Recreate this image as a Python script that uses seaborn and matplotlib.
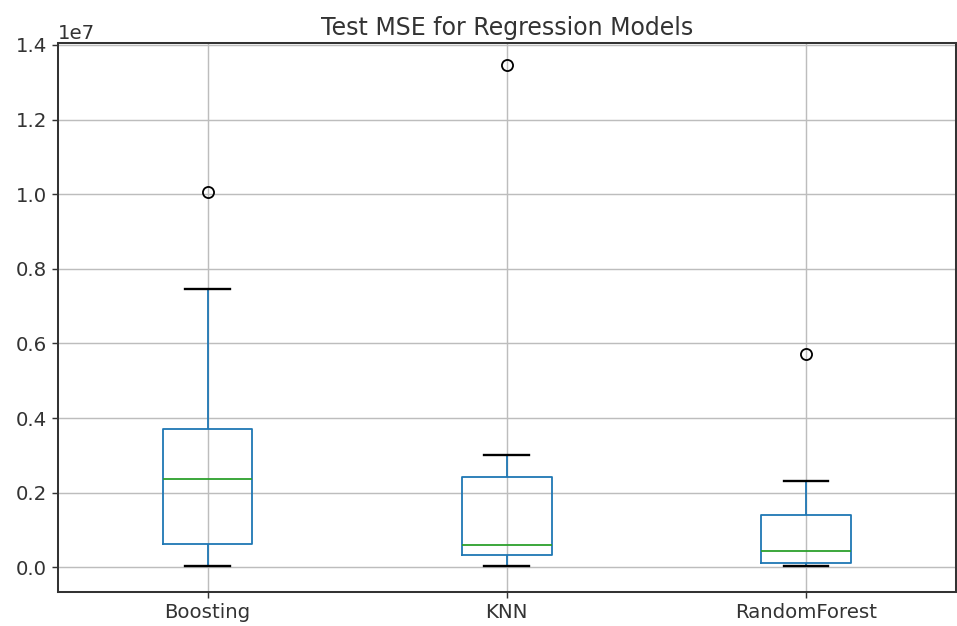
import matplotlib
matplotlib.use("Agg")
import matplotlib.pyplot as plt
import numpy as np
import pandas as pd
import seaborn as sns

# Test MSE per cross-validation fold (values in units of 1e7)
models = ["Boosting", "KNN", "RandomForest"]
boosting_mse = [0.003, 0.030, 0.062, 0.150, 0.237, 0.300, 0.372, 0.745, 1.005]
knn_mse = [0.003, 0.020, 0.032, 0.045, 0.059, 0.120, 0.243, 0.301, 1.345]
rf_mse = [0.003, 0.008, 0.013, 0.030, 0.043, 0.090, 0.141, 0.232, 0.571]

scale = 1.3
plt.rcParams.update({
    "font.family": ["DejaVu Sans"],
    "font.size": 14.2,
    "axes.titlesize": 17,
    "axes.linewidth": 0.8 * scale * 1.4,
    "axes.edgecolor": "#333333",
    "xtick.major.size": 3.5 * scale,
    "ytick.major.size": 3.5 * scale,
    "xtick.major.width": 0.8 * scale,
    "ytick.major.width": 0.8 * scale,
    "grid.color": "#bdbdbd",
    "grid.linewidth": 0.8 * scale,
    "text.color": "#333333",
    "xtick.color": "#333333",
    "ytick.color": "#333333",
})

df = pd.DataFrame({
    "model": np.repeat(models, [len(boosting_mse), len(knn_mse), len(rf_mse)]),
    "mse": np.concatenate([boosting_mse, knn_mse, rf_mse]) * 1e7,
})

fig = plt.figure(figsize=(9.57, 6.26), dpi=100)
ax = fig.add_axes([0.0606, 0.0543, 0.938, 0.877])

lw = 1.0 * scale
sns.boxplot(
    data=df, x="model", y="mse", order=models, ax=ax,
    width=0.3, fill=False, color="#1f77b4", linewidth=lw,
    boxprops={"color": "#1f77b4", "linewidth": lw},
    whiskerprops={"color": "#1f77b4", "linewidth": lw},
    capprops={"color": "black", "linewidth": lw * 1.3},
    medianprops={"color": "#2ca02c", "linewidth": lw},
    flierprops={"marker": "o", "markerfacecolor": "none", "markeredgecolor": "black",
                "markersize": 8, "markeredgewidth": 1.3},
)

ax.set_xlim(-0.5, 2.5)
ax.set_ylim(-0.066e7, 1.405e7)
ax.set_yticks(np.arange(0, 1.41e7, 0.2e7))
ax.grid(True, axis="both")
ax.set_axisbelow(True)
ax.set_xlabel("")
ax.set_ylabel("")
ax.set_title("Test MSE for Regression Models")

fig.savefig("out.png", dpi=100)
